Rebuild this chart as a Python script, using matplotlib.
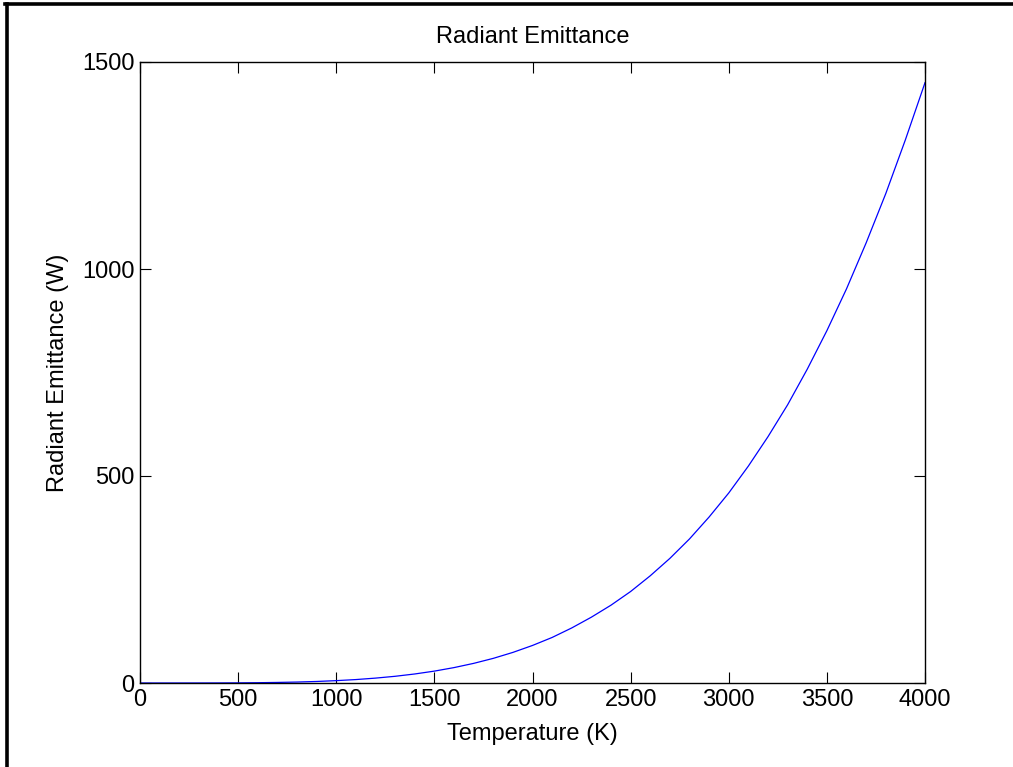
import numpy as np
import matplotlib.pyplot as plt
from matplotlib.lines import Line2D

plt.rcParams['font.family'] = ['Liberation Sans', 'DejaVu Sans']

# Температура, K
temperature = list(range(0, 4001, 100))
# Энергетическая светимость, W
emittance = [0, 0, 0.01, 0.05, 0.15, 0.35, 0.73, 1.36, 2.3, 3.7,
             5.7, 8.3, 11.8, 16.2, 21.8, 28.7, 37.2, 47.4, 59.5, 73.9,
             90.7, 110, 133, 159, 188, 221, 259, 301, 348, 401,
             459, 524, 595, 672, 758, 851, 952, 1063, 1182, 1312, 1450]

x_ticks = [0, 500, 1000, 1500, 2000, 2500, 3000, 3500, 4000]
y_ticks = [0, 500, 1000, 1500]

fig = plt.figure(figsize=(10.13, 7.67), dpi=100)
ax = fig.add_axes([140 / 1013, 1 - 683 / 767, 785 / 1013, 621 / 767])

ax.plot(temperature, emittance, color='#0000ff', linewidth=0.9)
ax.set_xlim(0, 4000)
ax.set_ylim(0, 1500)
ax.set_xticks(x_ticks)
ax.set_yticks(y_ticks)
ax.tick_params(direction='in', length=8, width=0.8, labelsize=17,
               top=True, right=True, pad=4)
for s in ax.spines.values():
    s.set_linewidth(1.0)

ax.set_title('Radiant Emittance', fontsize=17, pad=14)
ax.set_xlabel('Temperature (K)', fontsize=17, labelpad=9)
ax.set_ylabel('Radiant Emittance (W)', fontsize=17, labelpad=9)

# рамка окна: верх и левый край
fig.add_artist(Line2D([6.5 / 1013, 6.5 / 1013], [0, 1 - 3.5 / 767],
                      transform=fig.transFigure, color='black', linewidth=2.6))
fig.add_artist(Line2D([5 / 1013, 1], [1 - 3.5 / 767, 1 - 3.5 / 767],
                      transform=fig.transFigure, color='black', linewidth=2.6))

fig.savefig('out.png', dpi=100)
